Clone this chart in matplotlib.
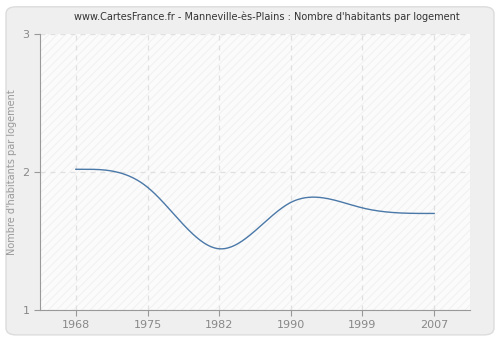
import numpy as np
import matplotlib
matplotlib.use("Agg")
import matplotlib.pyplot as plt
from matplotlib.patches import FancyBboxPatch

years = ["1968", "1975", "1982", "1990", "1999", "2007"]
values = [2.02, 1.89, 1.444, 1.78, 1.74, 1.70]
yticks = [1, 2, 3]


def clamped_spline(x, y, n=400):
    x = np.asarray(x, float); y = np.asarray(y, float)
    m = len(x); h = np.diff(x)
    A = np.zeros((m, m)); b = np.zeros(m)
    A[0, 0] = 2 * h[0]; A[0, 1] = h[0]; b[0] = 3 * (y[1] - y[0]) / h[0]
    A[-1, -2] = h[-1]; A[-1, -1] = 2 * h[-1]; b[-1] = -3 * (y[-1] - y[-2]) / h[-1]
    for i in range(1, m - 1):
        A[i, i - 1] = h[i - 1]; A[i, i] = 2 * (h[i - 1] + h[i]); A[i, i + 1] = h[i]
        b[i] = 3 * ((y[i + 1] - y[i]) / h[i] - (y[i] - y[i - 1]) / h[i - 1])
    c = np.linalg.solve(A, b)
    xs = np.linspace(x[0], x[-1], n); ys = np.empty_like(xs)
    for k, xv in enumerate(xs):
        i = min(np.searchsorted(x, xv, side="right") - 1, m - 2)
        d = (c[i + 1] - c[i]) / (3 * h[i])
        bb = (y[i + 1] - y[i]) / h[i] - h[i] * (2 * c[i] + c[i + 1]) / 3
        t = xv - x[i]
        ys[k] = y[i] + bb * t + c[i] * t ** 2 + d * t ** 3
    return xs, ys


fig = plt.figure(figsize=(5, 3.4), dpi=100)
fig.patch.set_facecolor("white")
bg = FancyBboxPatch((0.012, 0.015), 0.976, 0.965, boxstyle="round,pad=0,rounding_size=0.02",
                    transform=fig.transFigure, facecolor="#efefef", edgecolor="#dcdcdc",
                    linewidth=1, zorder=-10)
fig.patches.append(bg)

ax = fig.add_axes([0.08, 0.088, 0.86, 0.812])
ax.set_facecolor("#fbfbfb")
plt.rcParams["hatch.linewidth"] = 0.6
ax.add_patch(plt.Rectangle((0, 0), 1, 1, transform=ax.transAxes, facecolor="none",
                           edgecolor="#efefef", hatch="////", linewidth=0, zorder=0))

idx = np.arange(len(years))
xs, ys = clamped_spline(idx, values)
ax.plot(xs, ys, color="#4a78a8", linewidth=1.0, zorder=3)

ax.set_xlim(-0.5, len(years) - 0.5)
ax.set_ylim(1, 3)
ax.set_xticks(idx)
ax.set_xticklabels(years)
ax.set_yticks(yticks)
ax.set_yticklabels([str(v) for v in yticks])
ax.grid(True, color="#e0e0e0", linestyle=(0, (4, 4)), linewidth=0.9, zorder=1)
for s in ["top", "right"]:
    ax.spines[s].set_visible(False)
for s in ["left", "bottom"]:
    ax.spines[s].set_color("#999999")
ax.tick_params(colors="#999999", labelcolor="#888888", labelsize=8, length=4, direction="out")
ax.set_ylabel("Nombre d'habitants par logement", color="#999999", fontsize=7, labelpad=4)
fig.text(0.534, 0.95, "www.CartesFrance.fr - Manneville-ès-Plains : Nombre d'habitants par logement",
         ha="center", va="center", fontsize=7, color="#333333")

fig.savefig("out.png", dpi=100, facecolor=fig.get_facecolor())
